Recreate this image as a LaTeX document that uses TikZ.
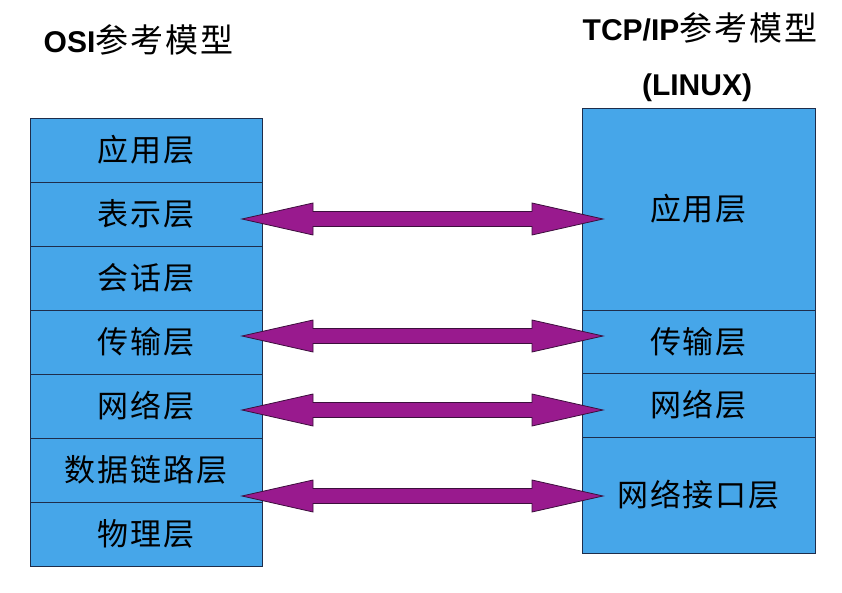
\documentclass[tikz,border=0pt]{standalone}
\usepackage{fontspec}
\setmainfont{Liberation Sans}
\newfontfamily\cjk[LetterSpace=6]{Noto Sans CJK SC}
\usetikzlibrary{calc}
\definecolor{layerblue}{RGB}{70,166,233}
\definecolor{layerline}{RGB}{30,45,75}
\definecolor{arrowpurple}{RGB}{153,26,142}
\definecolor{arrowline}{RGB}{60,15,60}
\begin{document}
\begin{tikzpicture}[x=1pt,y=-1pt,inner sep=0pt,
  layer/.style={draw=layerline,line width=0.8pt,fill=layerblue,font=\cjk\fontsize{31}{33}\selectfont},
  title/.style={font=\fontsize{30}{32}\selectfont},
  biarrow/.style={draw=arrowline,fill=arrowpurple,line width=0.8pt,line join=miter,
    to path={let \p1=(\tikztostart), \p2=(\tikztotarget) in
      (\x1,\y1) -- (\x1+71pt,\y1+16pt) -- (\x1+71pt,\y1+7.5pt) -- (\x2-71pt,\y1+7.5pt)
      -- (\x2-71pt,\y1+16pt) -- (\x2,\y1) -- (\x2-71pt,\y1-16pt) -- (\x2-71pt,\y1-7.5pt)
      -- (\x1+71pt,\y1-7.5pt) -- (\x1+71pt,\y1-16pt) -- cycle}}]
\useasboundingbox (0,0) rectangle (842,593);
% titles
\node[title] (osi) at (138.5,40) {\textbf{OSI}{\cjk\fontsize{33}{35}\selectfont 参考模型}};
\node[title] (tcp) at (700,28) {\textbf{TCP/IP}{\cjk\fontsize{33}{35}\selectfont 参考模型}};
\node[title] (linux) at (697,88) {\textbf{(LINUX)}};
% OSI layers
\foreach \t [count=\i] in {应用层,表示层,会话层,传输层,网络层,数据链路层,物理层}
  \node[layer,minimum width=232pt,minimum height=64pt] (o\i) at (146,86+64*\i) {\t};
% TCP/IP layers
\node[layer,minimum width=233pt,minimum height=202pt] (t1) at (698.5,209) {应用层};
\node[layer,minimum width=233pt,minimum height=63pt] (t2) at (698.5,341.5) {传输层};
\node[layer,minimum width=233pt,minimum height=64pt] (t3) at (698.5,405) {网络层};
\node[layer,minimum width=233pt,minimum height=116pt] (t4) at (698.5,495) {网络接口层};
% arrows
\coordinate (a1) at (242,219); \coordinate (b1) at (603,219);
\coordinate (a2) at (242,336); \coordinate (b2) at (603,336);
\coordinate (a3) at (242,410); \coordinate (b3) at (603,410);
\coordinate (a4) at (242,496); \coordinate (b4) at (603,496);
\foreach \i in {1,...,4}
  \draw[biarrow] (a\i) to (b\i);
\end{tikzpicture}
\end{document}
